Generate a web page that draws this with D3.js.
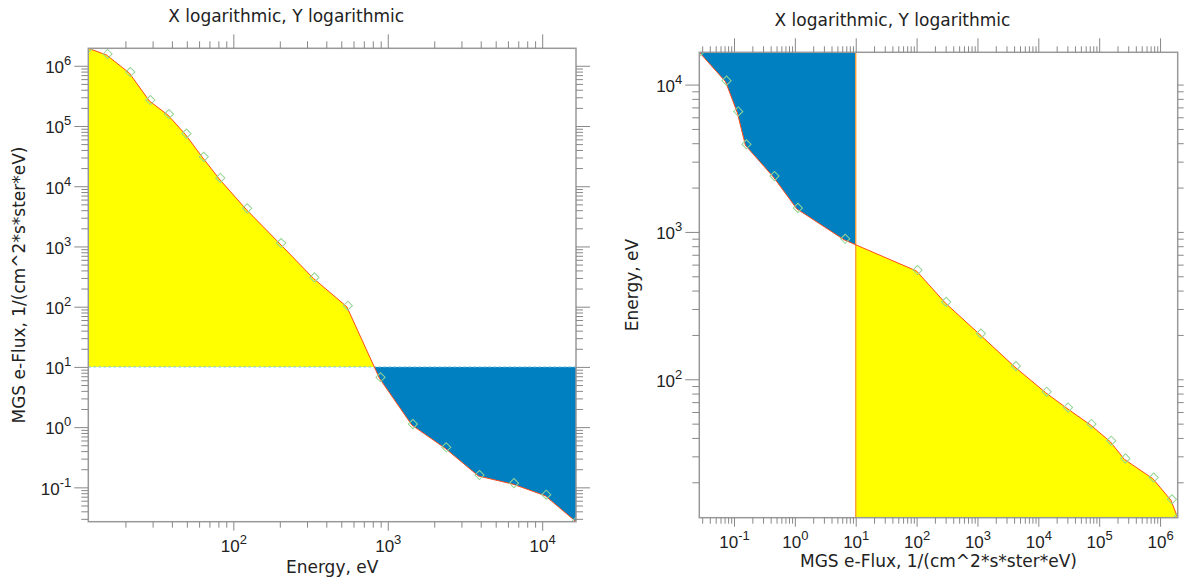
<!DOCTYPE html>
<html>
<head>
<meta charset="utf-8">
<script src="https://cdn.jsdelivr.net/npm/d3@7"></script>
<style>
  body { margin: 0; background: #fff; }
  svg { font-family: "DejaVu Sans", sans-serif; }
  .tick line { stroke: #888; }
  .tick text { fill: #222; font-size: 17px; }
  .title, .label { fill: #222; font-size: 17px; }
</style>
</head>
<body>
<svg id="chart" width="1184" height="580"></svg>
<script>
// MGS electron spectrum - same points drawn twice, axes swapped on the right panel

var energy = [11.5, 15.1, 21.2, 28.6, 37.7, 49.0, 63.4, 81.1, 121, 201, 330, 543,
              884, 1433, 2355, 3870, 6470, 10470, 16560];
var flux = [1.95e6, 1.51e6, 7.57e5, 2.6e5, 1.52e5, 7.2e4, 2.96e4, 1.32e4, 4130, 1097, 295, 99.8,
            6.46, 1.08, 0.445, 0.154, 0.113, 0.0726, 0.0269];
var baseFlux = 10;

var titleText = "X logarithmic, Y logarithmic";
var energyLabel = "Energy, eV";
var fluxLabel = "MGS e-Flux, 1/(cm^2*s*ster*eV)";

var yellow = "#ffff00", blue = "#0080c0";

var svg = d3.select("#chart");

var points = energy.map(function(e, i) { return {energy: e, flux: flux[i]}; });

// 1..9 x 10^n inside the domain
function logTicks(domain) {
    var lo = d3.min(domain), hi = d3.max(domain), out = [];
    for (var p = Math.floor(Math.log10(lo)); p <= Math.ceil(Math.log10(hi)); p++) {
        for (var k = 1; k < 10; k++) {
            var v = k * Math.pow(10, p);
            if (v >= lo && v <= hi) out.push(v);
        }
    }
    return out;
}
function isPow10(v) {
    var l = Math.log10(v);
    return Math.abs(l - Math.round(l)) < 1e-9;
}

// "10" with the exponent as superscript
function powLabels(g) {
    g.selectAll(".tick text").text(null).each(function(d) {
        var t = d3.select(this);
        t.append("tspan").text("10");
        t.append("tspan").attr("dy", -8).style("font-size", "13px").text(Math.round(Math.log10(d)));
    });
}

function addAxis(g, axisFn, scale, transform, minorLen, majorLen, labels) {
    var vals = logTicks(scale.domain());
    var minor = vals.filter(function(v) { return !isPow10(v); });
    var major = vals.filter(isPow10);

    var a1 = g.append("g").attr("transform", transform)
        .call(axisFn(scale).tickValues(minor).tickSize(minorLen).tickFormat(""));
    var a2 = g.append("g").attr("transform", transform)
        .call(axisFn(scale).tickValues(major).tickSize(majorLen).tickPadding(3)
            .tickFormat(labels ? function(d) { return d; } : ""));
    a1.select(".domain").remove();
    a2.select(".domain").remove();
    if (labels) a2.call(powLabels);
    return a2;
}

function drawChart(opt) {
    var w = opt.width, h = opt.height;
    var g = svg.append("g").attr("transform", "translate(" + opt.left + "," + opt.top + ")");

    var eScale = d3.scaleLog().domain(d3.extent(energy));
    var fScale = d3.scaleLog().domain(d3.extent(flux));
    var x, y, px, py;
    if (!opt.swap) {
        x = eScale.range([0, w]); y = fScale.range([h, 0]);
        px = function(d) { return x(d.energy); };
        py = function(d) { return y(d.flux); };
    } else {
        x = fScale.range([0, w]); y = eScale.range([h, 0]);
        px = function(d) { return x(d.flux); };
        py = function(d) { return y(d.energy); };
    }

    var defs = g.append("defs");
    defs.append("clipPath").attr("id", opt.id + "-plot")
        .append("rect").attr("width", w).attr("height", h);

    var area, yellowRect, blueRect;
    if (!opt.swap) {
        var by = y(baseFlux);
        area = d3.area().x(px).y0(by).y1(py);
        yellowRect = [0, 0, w, by];
        blueRect = [0, by, w, h - by];
    } else {
        var bx = x(baseFlux);
        area = d3.area().y(py).x0(bx).x1(px);
        yellowRect = [bx, 0, w - bx, h];
        blueRect = [0, 0, bx, h];
    }
    [["yel", yellowRect, yellow], ["blu", blueRect, blue]].forEach(function(c) {
        defs.append("clipPath").attr("id", opt.id + "-" + c[0])
            .append("rect").attr("x", c[1][0]).attr("y", c[1][1])
            .attr("width", c[1][2]).attr("height", c[1][3]);
        g.append("path").datum(points)
            .attr("clip-path", "url(#" + opt.id + "-" + c[0] + ")")
            .attr("fill", c[2])
            .attr("d", area);
    });

    // base level at 10
    if (!opt.swap) {
        g.append("line").attr("x1", 0).attr("x2", w)
            .attr("y1", y(baseFlux)).attr("y2", y(baseFlux))
            .attr("stroke", "#7cc4e4").attr("stroke-dasharray", "3,2");
    } else {
        g.append("line").attr("y1", 0).attr("y2", h)
            .attr("x1", x(baseFlux)).attr("x2", x(baseFlux))
            .attr("stroke", "#ff9a30").attr("stroke-width", 1.3);
    }

    var plot = g.append("g").attr("clip-path", "url(#" + opt.id + "-plot)");
    plot.append("path").datum(points)
        .attr("fill", "none").attr("stroke", "#ff4a1a").attr("stroke-width", 1)
        .attr("d", d3.line().x(px).y(py));
    plot.selectAll(".pt").data(points).enter().append("path")
        .attr("class", "pt")
        .attr("d", d3.symbol(d3.symbolSquare, 42))
        .attr("transform", function(d) { return "translate(" + (px(d) + 1) + "," + (py(d) - 1) + ") rotate(45)"; })
        .attr("fill", "none").attr("stroke", "#94d494").attr("stroke-width", 1);

    g.append("rect").attr("width", w).attr("height", h)
        .attr("fill", "none").attr("stroke", "#999").attr("stroke-width", 1.5);

    // axes on all four sides, labels bottom + left only
    var bot = addAxis(g, d3.axisBottom, x, "translate(0," + h + ")", 6, 9, true);
    bot.selectAll(".tick text").attr("y", 30).attr("dy", 0);
    var lef = addAxis(g, d3.axisLeft, y, "translate(0,0)", 7, 14, true);
    lef.selectAll(".tick text").attr("dy", "0.4em");
    addAxis(g, d3.axisTop, x, "translate(0,0)", opt.topMinor, 14, false);
    addAxis(g, d3.axisRight, y, "translate(" + w + ",0)", opt.rightMinor, opt.rightMajor, false);

    g.append("text").attr("class", "title")
        .attr("x", w / 2 - 46).attr("y", -26)
        .attr("text-anchor", "middle").text(titleText);
    g.append("text").attr("class", "label")
        .attr("x", w / 2).attr("y", h + opt.xLabelGap)
        .attr("text-anchor", "middle").text(opt.xLabel);
    g.append("text").attr("class", "label")
        .attr("transform", "translate(" + opt.yLabelX + "," + (h / 2) + ") rotate(-90)")
        .attr("text-anchor", "middle").text(opt.yLabel);
}

drawChart({id: "c1", left: 88.3, top: 48.3, width: 487.7, height: 473.4, swap: false,
           xLabel: energyLabel, yLabel: fluxLabel, xLabelGap: 51, yLabelX: -63,
           topMinor: 7, rightMinor: 7, rightMajor: 14});
drawChart({id: "c2", left: 699.3, top: 52.3, width: 478.4, height: 465.4, swap: true,
           xLabel: fluxLabel, yLabel: energyLabel, xLabelGap: 49, yLabelX: -61,
           topMinor: 6, rightMinor: 6, rightMajor: 6});
</script>
</body>
</html>
